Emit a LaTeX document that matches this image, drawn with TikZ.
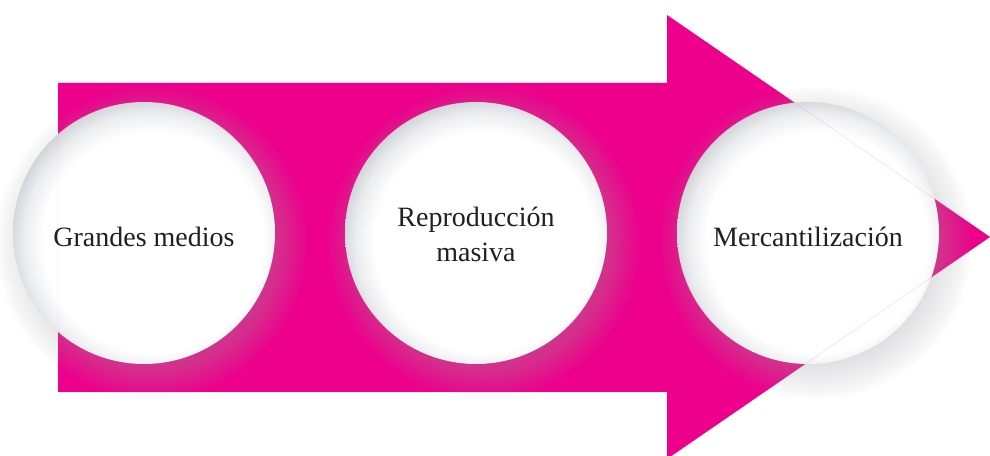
\documentclass[tikz,border=0pt]{standalone}
\usepackage{fontspec}
\setmainfont{Liberation Serif}
\usetikzlibrary{calc}

\definecolor{arrowmag}{RGB}{236,0,140}
\definecolor{shadowgray}{RGB}{172,172,178}
\definecolor{bubblegray}{RGB}{200,202,208}
\definecolor{textgray}{RGB}{35,31,32}

\pgfdeclareradialshading{bubbleshade}{\pgfpoint{3bp}{-3bp}}{%
  color(0bp)=(white); color(21bp)=(white); color(24.5bp)=(bubblegray!35!white);
  color(28bp)=(bubblegray); color(50bp)=(bubblegray)}

\tikzset{
  bubble/.style={circle, minimum size=262pt, inner sep=0pt, shading=bubbleshade,
    text=textgray, align=center, font=\fontsize{28}{35}\selectfont},
}

\begin{document}
\begin{tikzpicture}[x=1pt, y=1pt]
        \useasboundingbox (0,0) rectangle (990,455);

        % Draw the big arrow
        \fill[arrowmag] (58,63) -- (58,372) -- (667,372) -- (667,440) -- (990,218)
            -- (667,-4) -- (667,63) -- cycle;

        % Centres of the three circles
        \coordinate (c1) at (144,222);
        \coordinate (c2) at (476,222);
        \coordinate (c3) at (808,222);

        % Soft shadows under the circles
        \foreach \c in {c1,c2,c3} {
            \foreach \k in {1,...,30}
                \fill[shadowgray, opacity=0.016] ($(\c)+(8,-10)$) circle [radius={118pt+1.3pt*\k}];
        }

        % Draw the circles with their texts
        \node[bubble] (grandes) at (c1) {\raisebox{-14pt}[0pt][0pt]{Grandes medios}};
        \node[bubble] (repro) at (c2) {\raisebox{6pt}[0pt][0pt]{\parbox[t]{200pt}{\centering Reproducción\\masiva}}};
        \node[bubble] (mercan) at (c3) {\raisebox{-14pt}[0pt][0pt]{Mercantilización}};

        % Faint outline of the arrow over the circles
        \draw[arrowmag, opacity=0.18, line width=0.4pt] (58,63) -- (58,372) -- (667,372)
            -- (667,440) -- (990,218) -- (667,-4) -- (667,63) -- cycle;
    \end{tikzpicture}
\end{document}
